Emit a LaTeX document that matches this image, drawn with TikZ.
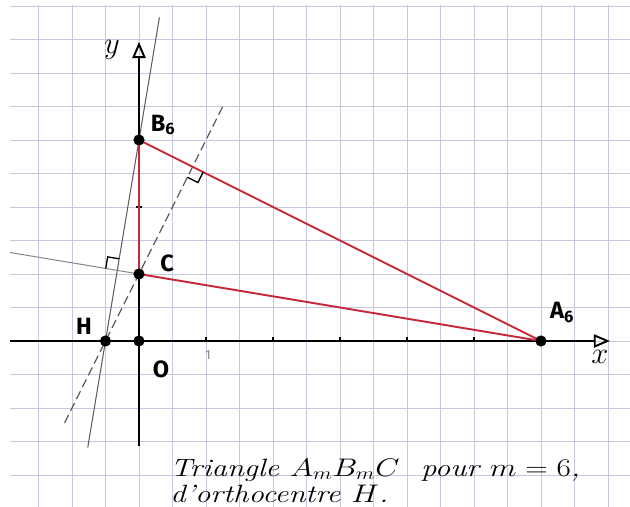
\documentclass[tikz,border=0pt]{standalone}
\usepackage{fontspec}
\newfontfamily\lab{Fira Sans}
\usetikzlibrary{arrows.meta,calc}
\definecolor{gridc}{HTML}{C6C8DE}
\definecolor{redc}{HTML}{C8283C}
\definecolor{thinc}{HTML}{5C5C5C}
\definecolor{lightc}{HTML}{8A8A8A}
\begin{document}
\begin{tikzpicture}[x=0.8cm,y=0.8cm,
  pt/.style={circle,fill=black,inner sep=0pt,minimum size=7.6pt},
  axisline/.style={line width=1.6pt,black},
  redline/.style={line width=1.3pt,redc},
  thinline/.style={line width=0.7pt,thinc},
  dashline/.style={line width=0.8pt,thinc,dash pattern=on 6pt off 3pt},
  marker/.style={line width=0.9pt,black},
  lbl/.style={font=\lab\bfseries\fontsize{16}{18}\selectfont,inner sep=0pt},
  captext/.style={font=\itshape\fontsize{17}{18}\selectfont,inner sep=0pt,anchor=base west},
  tiparrow/.style={-{Triangle[open,length=11pt,width=9pt,line width=1.3pt]}}]
\useasboundingbox (-4.149,-4.955) rectangle (14.657,10.179);
\fill[white] (-4.149,-4.955) rectangle (14.657,10.179);
\begin{scope}
\clip (-3.85,-4.955) rectangle (14.657,10.02);
\draw[gridc,line width=0.55pt,step=0.8cm] (-4,-5) grid (15,11);
\end{scope}
% points
\coordinate (O) at (0,0);
\coordinate (A) at (12,0);
\coordinate (B) at (0,6);
\coordinate (C) at (0,2);
\coordinate (H) at (-1,0);
% axes end points
\coordinate (xl) at (-3.85,0);
\coordinate (xr) at (14.06,0);
\coordinate (yb) at (0,-3.12);
\coordinate (yt) at (0,8.93);
% altitude from B (through H)
\coordinate (hb1) at ($(H)!1.61!(B)$);
\coordinate (hb2) at ($(H)!-0.53!(B)$);
\draw[thinline] (hb2) -- (hb1);
% altitude from C (dashed, through H)
\coordinate (hc1) at ($(H)!3.52!(C)$);
\coordinate (hc2) at ($(H)!-1.22!(C)$);
\draw[dashline] (hc2) -- (hc1);
% extension of AC to the left
\coordinate (acl) at ($(A)!1.321!(C)$);
\draw[line width=0.7pt,lightc] (acl) -- (C);
% axes
\draw[axisline,tiparrow] (xl) -- (xr);
\draw[axisline,tiparrow] (yb) -- (yt);
% ticks
\foreach \t in {2,4,6,8,10} \draw[line width=0.9pt] (\t,0) -- (\t,0.13);
\draw[line width=0.9pt] (-0.08,4) -- (0.08,4);
\node[font=\lab\fontsize{9}{10}\selectfont,text=lightc,inner sep=0pt] (one) at (2.06,-0.42) {1};
% triangle
\draw[redline] (B) -- (C);
\draw[redline] (B) -- (A);
\draw[redline] (C) -- (A);
% right-angle markers
\coordinate (F1) at ($(A)!(B)!(C)$);
\coordinate (P1) at ($(F1)!-0.28cm!(C)$);
\coordinate (R1) at ($(F1)!0.28cm!(B)$);
\draw[marker] (P1) -- ($(P1)+(R1)-(F1)$) -- (R1);
\coordinate (F2) at ($(A)!(C)!(B)$);
\coordinate (P2) at ($(F2)!0.28cm!(A)$);
\coordinate (R2) at ($(F2)!0.28cm!(H)$);
\draw[marker] (P2) -- ($(P2)+(R2)-(F2)$) -- (R2);
% dots
\node[pt] (dO) at (O) {};
\node[pt] (dA) at (A) {};
\node[pt] (dB) at (B) {};
\node[pt] (dC) at (C) {};
\node[pt] (dH) at (H) {};
% labels
\node[font=\fontsize{22}{24}\selectfont,inner sep=0pt] (ly) at (-0.81,8.69) {$y$};
\node[font=\fontsize{22}{24}\selectfont,inner sep=0pt] (lx) at (13.76,-0.48) {$x$};
\node[lbl] (lB) at (0.72,6.45) {B\textsubscript{6}};
\node[lbl] (lC) at (0.84,2.33) {C};
\node[lbl] (lH) at (-1.64,0.45) {H};
\node[lbl] (lO) at (0.66,-0.84) {O};
\node[lbl] (lA) at (12.63,0.84) {A\textsubscript{6}};
\node[captext] (cap1) at (0.93,-4.03) {\scalebox{1.23}[1]{Triangle $A_m B_m C$\ \ pour $m=6$,}};
\node[captext] (cap2) at (0.93,-4.83) {\scalebox{1.23}[1]{d'orthocentre $H$.}};
\end{tikzpicture}
\end{document}
